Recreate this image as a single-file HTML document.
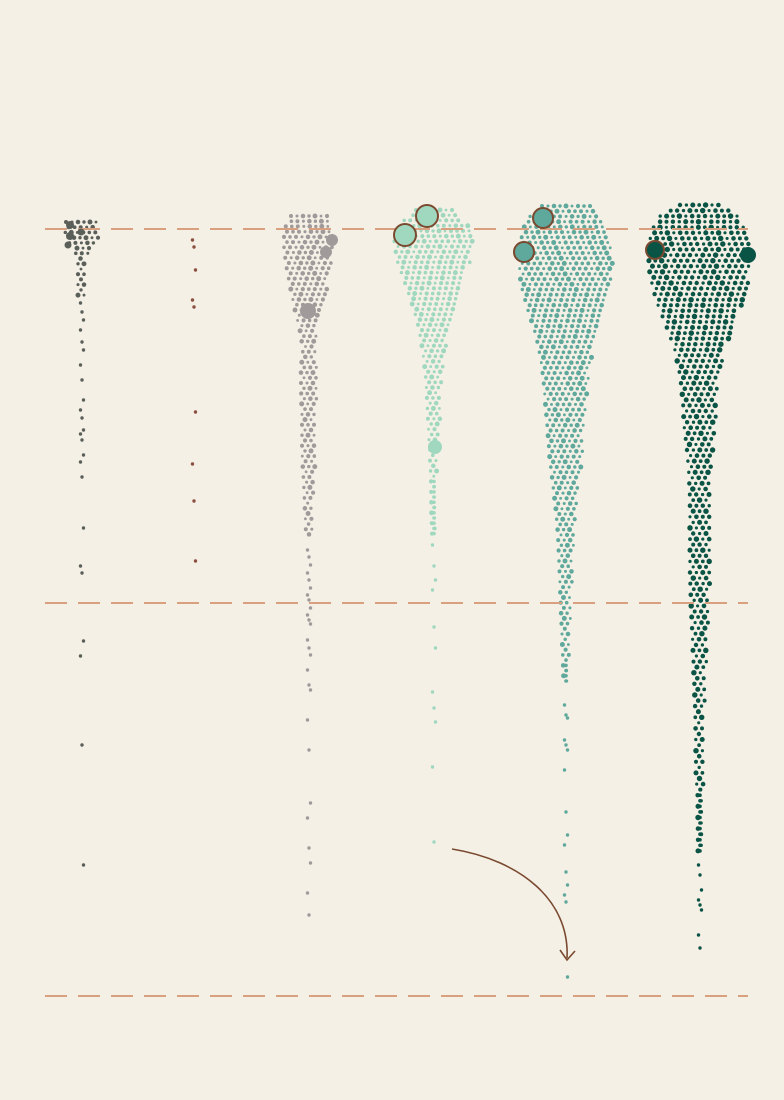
<!DOCTYPE html>
<html><head><meta charset="utf-8">
<style>
html,body{margin:0;padding:0;background:#f5f0e6;}
svg{display:block;}
</style></head>
<body>
<svg id="chart" width="784" height="1100" viewBox="0 0 784 1100" xmlns="http://www.w3.org/2000/svg">
<rect width="784" height="1100" fill="#f5f0e6"/>
<g id="dots"></g>
<g id="lines"></g>
<g id="hl"></g>
<path d="M452,849 C520,860 570,900 567,958" fill="none" stroke="#7a4a30" stroke-width="1.6"/>
<path d="M560,950 L567,960 L575,951" fill="none" stroke="#7a4a30" stroke-width="1.6"/>
</svg>
<script>
// Reference line positions (y-values)
const refLines = [229, 603, 996];
// Column centers and colors
const colNames = ['col-1','col-2','col-3','col-4','col-5','col-6'];
const colX = [82, 194, 309, 434, 566, 700];
const colColor = ['#5a5f5a','#8b5040','#a09a9a','#9fd8bf','#5fa89c','#0a5445'];
// Density profiles: [y, half-width]
const prof1 = [[222,16],[238,17],[248,8],[260,4],[298,4]];
const prof2 = [];
const prof3 = [[216,18],[230,25],[250,25],[270,22],[290,18],[310,14],[330,9],[350,6],[370,8],[390,8],[410,7],[450,7],[470,6],[490,5],[510,4],[535,3]];
const prof4 = [[210,18],[225,35],[240,40],[260,37],[280,30],[300,23],[320,17],[340,13],[360,10],[380,8],[400,7],[420,6],[440,5],[460,4],[480,3],[535,2]];
const prof5 = [[206,24],[220,40],[240,45],[260,47],[285,45],[310,38],[335,30],[360,25],[385,22],[410,20],[435,18],[460,16],[485,13],[510,10],[535,8],[560,7],[585,6],[610,5],[635,4],[660,3],[685,2]];
const prof6 = [[205,20],[213,38],[230,48],[250,52],[275,50],[300,44],[325,34],[350,25],[375,20],[400,17],[425,16],[450,13],[475,11],[500,10],[550,10],[575,10],[600,9],[625,8],[650,7],[675,6],[700,5],[750,4],[775,4],[800,2],[855,2]];
const profiles = [prof1,prof2,prof3,prof4,prof5,prof6];
// Isolated tail values (y)
const tail1 = [303,312,320,330,342,350,365,380,400,410,418,430,434,440,455,462,477,528,566,573,641,656,745,865];
const tail2 = [240,247,270,300,307,412,464,501,561];
const tail3 = [550,557,565,573,580,588,595,600,608,615,620,624,640,648,655,670,685,690,720,750,803,818,848,863,893,915];
const tail4 = [545,566,580,590,627,648,692,708,722,767,842];
const tail5 = [705,715,718,740,745,750,770,812,835,845,872,885,895,902,977];
const tail6 = [865,875,890,900,905,910,935,948];
const tails = [tail1,tail2,tail3,tail4,tail5,tail6];
// Highlighted points: [column, dx, y, r, outlined]
const highlights = [[3,-29,235,11,1],[3,-7,216,11,1],[4,-23,218,10,1],[4,-42,252,10,1],[5,-45,250,9,1],[5,48,255,8,0],[2,-1,311,8,0],[2,23,240,6,0],[2,17,252,6,0],[3,1,447,7,0],[0,-12,225,4,0],[0,-12,236,4,0],[0,-1,232,3.5,0],[0,-14,245,3.5,0]];

const NS='http://www.w3.org/2000/svg';
const gd=document.getElementById('dots'), gl=document.getElementById('lines'), gh=document.getElementById('hl');
function widthAt(p,y){
  if(!p.length||y<p[0][0]||y>p[p.length-1][0]) return -1;
  for(let i=0;i<p.length-1;i++){const a=p[i],b=p[i+1];if(y>=a[0]&&y<=b[0]){return a[1]+(b[1]-a[1])*(y-a[0])/(b[0]-a[0]);}}
  return p[p.length-1][1];
}
function dot(cx,cy,r,fill,name){
  const c=document.createElementNS(NS,'circle');
  c.setAttribute('cx',cx.toFixed(1));c.setAttribute('cy',cy.toFixed(1));c.setAttribute('r',r);c.setAttribute('fill',fill);
  
  
  gd.appendChild(c);
}
const sizes=[2.1,1.6,2.4,1.8,2.6,1.5,2.2,1.9];
profiles.forEach((p,ci)=>{
  const sp = ci===5?6.4:6.0, rowH=sp*0.87;
  let k=0,row=0;
  if(p.length){
    for(let y=p[0][0]; y<=p[p.length-1][0]; y+=rowH,row++){
      const w=widthAt(p,y); if(w<0) continue;
      const off=(row%2)*sp/2;
      for(let x=-w+off; x<=w+0.01; x+=sp){
        const r=sizes[(k++)%sizes.length]*(ci===5?1.05:0.95);
        dot(colX[ci]+x, y, r, colColor[ci], colNames[ci]+'-dot');
      }
      if(w<sp/2) dot(colX[ci],y,1.8,colColor[ci],colNames[ci]+'-dot');
    }
  }
  tails[ci].forEach((y,i)=>{dot(colX[ci]+((i%3)-1)*1.5, y, 1.7, colColor[ci], colNames[ci]+'-tail-dot');});
});
refLines.forEach((y,i)=>{
  const l=document.createElementNS(NS,'line');
  l.setAttribute('x1',45);l.setAttribute('x2',748);l.setAttribute('y1',y);l.setAttribute('y2',y);
  l.setAttribute('stroke','#d9a07f');l.setAttribute('stroke-width',2);l.setAttribute('stroke-dasharray','22 11');
  
  
  gl.appendChild(l);
});
highlights.forEach(h=>{
  const c=document.createElementNS(NS,'circle');
  c.setAttribute('cx',colX[h[0]]+h[1]);c.setAttribute('cy',h[2]);c.setAttribute('r',h[3]);
  c.setAttribute('fill',colColor[h[0]]);
  if(h[4]){c.setAttribute('stroke','#7a4a30');c.setAttribute('stroke-width',2);}
  
  
  gh.appendChild(c);
});
</script>
</body></html>
